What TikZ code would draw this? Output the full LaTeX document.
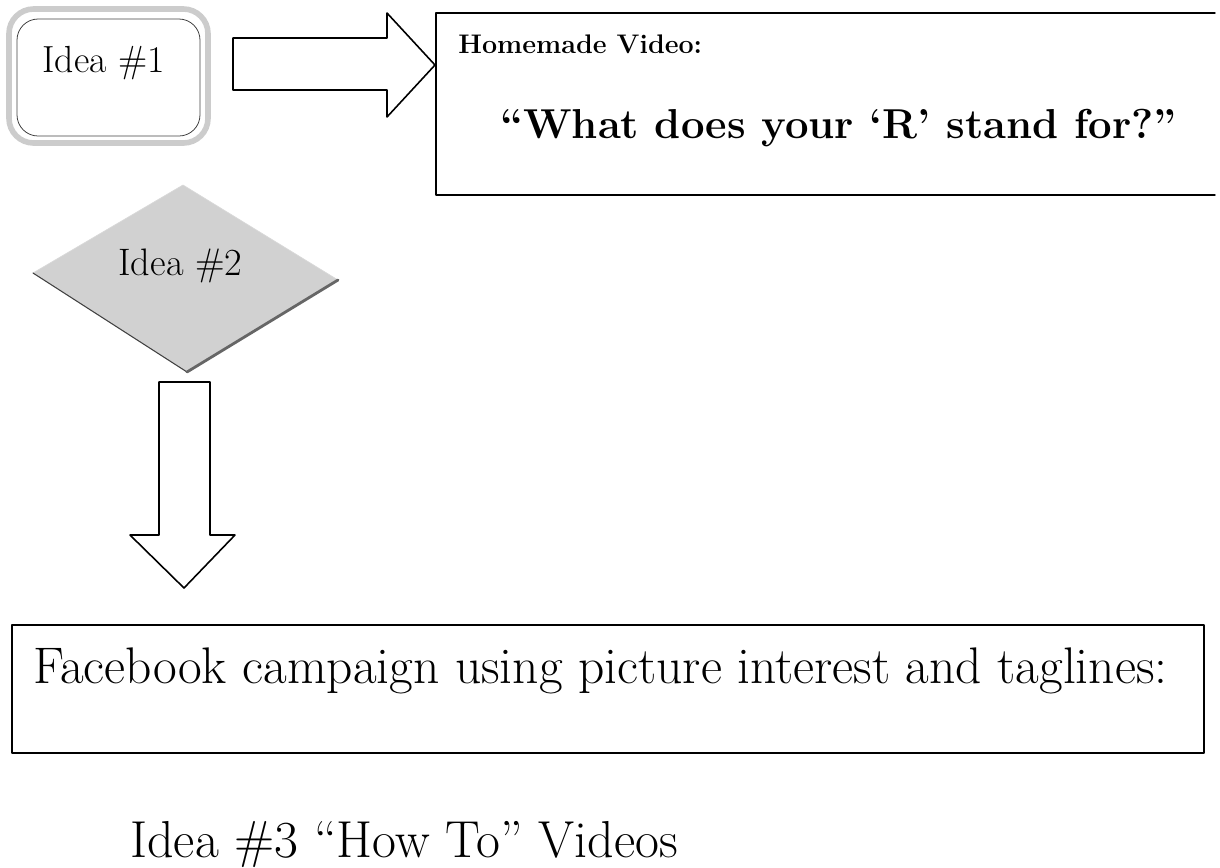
\documentclass[tikz,border=0pt]{standalone}
\usepackage{fontspec}
\usepackage{tikz}
\usetikzlibrary{positioning}

\begin{document}
\begin{tikzpicture}[x=0.02cm,y=-0.02cm,line cap=round,line join=round,
  boxline/.style={draw=black,line width=0.8pt},
  blockarrow/.style={draw=black,line width=0.9pt,fill=white},
  txt/.style={anchor=base west,inner sep=0pt,text=black}]
\path[use as bounding box] (0,0) rectangle (1220,867);
% idea 1 box with stippled frame
\draw[draw=black!20,line width=3.2pt,rounded corners=14] (9,9) rectangle (208,143);
\draw[draw=black!75,line width=0.45pt,rounded corners=12] (17,19) rectangle (200,136);
\node[txt,font=\fontsize{21.5}{24}\selectfont] (idea1) at (42,72) {Idea \#1};
% arrow to the right
\draw[blockarrow] (233,38) -- (387,38) -- (387,13) -- (435,65) -- (387,117) -- (387,90) -- (233,90) -- cycle;
% homemade video box
\draw[boxline] (1215,13) -- (436,13) -- (436,195) -- (1215,195);
\node[txt,font=\bfseries\fontsize{15.3}{17}\selectfont] (video) at (458,53) {Homemade Video:};
\node[txt,font=\bfseries\fontsize{23.8}{27}\selectfont] (question) at (500,138) {“What does your ‘R’ stand for?”};
% idea 2 diamond
\fill[black!18] (183,185) -- (338,280) -- (187,372) -- (33,273) -- cycle;
\draw[draw=black!15,line width=0.4pt] (33,273) -- (183,185) -- (338,280);
\draw[draw=black!75,line width=0.6pt] (33,273) -- (187,372);
\draw[draw=black!60,line width=1.6pt] (187,372) -- (338,280);
\node[txt,font=\fontsize{21.8}{24}\selectfont] (idea2) at (118,275) {Idea \#2};
% arrow downwards
\draw[blockarrow] (159,382) -- (210,382) -- (210,535) -- (235,535) -- (184,588) -- (130,535) -- (159,535) -- cycle;
% facebook box
\draw[boxline] (12,625) rectangle (1204,753);
\node[txt,font=\fontsize{29.3}{32}\selectfont] (facebook) at (33,683) {Facebook campaign using picture interest and taglines:};
% idea 3
\node[txt,font=\fontsize{29.6}{32}\selectfont] (idea3) at (130,857) {Idea \#3 “How To” Videos};
\end{tikzpicture}
\end{document}
